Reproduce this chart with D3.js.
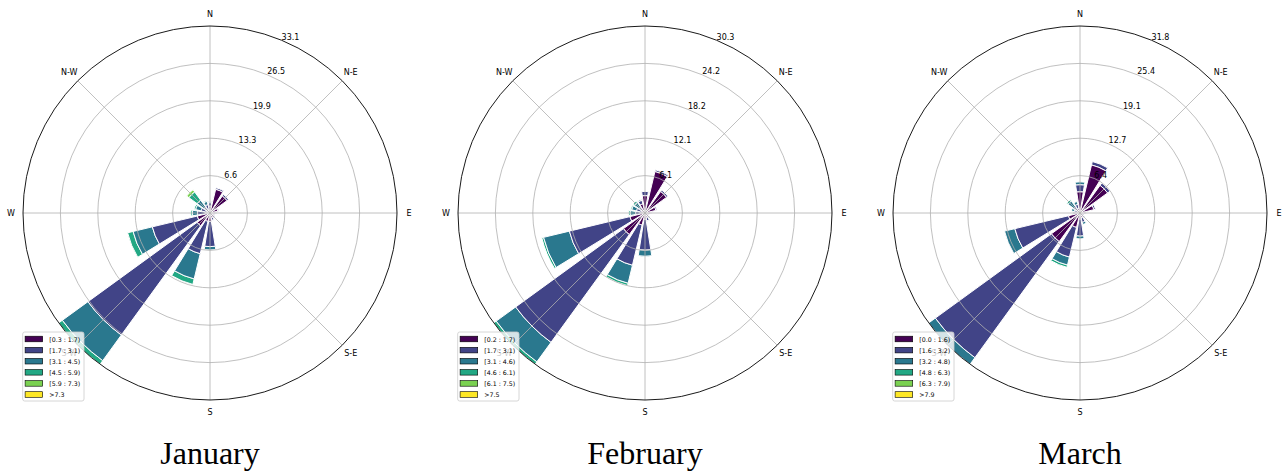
<!DOCTYPE html>
<html>
<head>
<meta charset="utf-8">
<script src="https://cdn.jsdelivr.net/npm/d3@7"></script>
<style>
  body { margin: 0; background: #fff; }
  svg { display: block; }
</style>
</head>
<body>
<svg id="chart" width="1287" height="474"></svg>
<script>
// Sixteen compass sectors, clockwise from north
const directions = ["N", "NNE", "NE", "ENE", "E", "ESE", "SE", "SSE",
                    "S", "SSW", "SW", "WSW", "W", "WNW", "NW", "NNW"];
const compassLabels = ["N", "N-E", "E", "S-E", "S", "S-W", "W", "N-W"];
const months = ["January", "February", "March"];

// Wind-speed bins shown in each legend
const janBins = ["[0.3 : 1.7)", "[1.7 : 3.1)", "[3.1 : 4.5)", "[4.5 : 5.9)", "[5.9 : 7.3)", ">7.3"];
const febBins = ["[0.2 : 1.7)", "[1.7 : 3.1)", "[3.1 : 4.6)", "[4.6 : 6.1)", "[6.1 : 7.5)", ">7.5"];
const marBins = ["[0.0 : 1.6)", "[1.6 : 3.2)", "[3.2 : 4.8)", "[4.8 : 6.3)", "[6.3 : 7.9)", ">7.9"];

// Frequency (%) per bin (rows) and direction (columns)
const janFreq = [
  [1.2, 4.3, 3.7, 1.4, 0.9, 0.7, 0.8, 0.9, 1.5, 1.5, 2.8, 2.3, 0.7, 0.6, 0.5, 0.7],
  [0.6, 0.3, 0.35, 0.2, 0.2, 0.2, 0.3, 0.4, 4.45, 5.9, 23.9, 8.2, 1.5, 1.0, 0.8, 0.8],
  [0.2, 0, 0, 0, 0, 0, 0, 0.1, 0.6, 4.6, 5.6, 3.5, 0.9, 1.0, 1.5, 0.6],
  [0, 0, 0, 0, 0, 0, 0, 0, 0, 1.0, 0.8, 1.0, 0.3, 0.3, 1.8, 0.2],
  [0, 0, 0, 0, 0, 0, 0, 0, 0, 0, 0, 0, 0, 0, 0.5, 0],
  [0, 0, 0, 0, 0, 0, 0, 0, 0, 0, 0, 0, 0, 0, 0, 0]
];
const febFreq = [
  [2.8, 6.9, 4.3, 1.8, 0.9, 0.6, 0.5, 0.7, 1.0, 2.0, 4.3, 2.5, 0.6, 0.6, 0.5, 1.5],
  [0.7, 0.3, 0.3, 0.2, 0.1, 0.1, 0.3, 0.6, 5.0, 6.7, 21.6, 10.1, 0.9, 0.8, 0.7, 0.6],
  [0, 0, 0, 0, 0, 0, 0.2, 0.1, 1.0, 3.0, 3.9, 4.3, 0.9, 0.8, 0.9, 0.2],
  [0, 0, 0, 0, 0, 0, 0, 0, 0, 0.4, 0.5, 0.3, 0.3, 0.2, 0.3, 0],
  [0, 0, 0, 0, 0, 0, 0, 0, 0, 0, 0, 0, 0, 0, 0, 0],
  [0, 0, 0, 0, 0, 0, 0, 0, 0, 0, 0, 0, 0, 0, 0, 0]
];
const marFreq = [
  [3.6, 8.4, 5.8, 2.4, 0.9, 0.5, 0.6, 0.8, 1.0, 2.5, 6.0, 2.0, 0.5, 0.4, 0.5, 0.8],
  [1.2, 0.6, 0.5, 0.3, 0.2, 0.2, 0.3, 0.8, 2.9, 5.2, 24.4, 9.4, 0.5, 0.6, 0.8, 0.7],
  [0.5, 0, 0, 0, 0, 0, 0.1, 0.4, 0.5, 1.4, 1.4, 1.8, 0.2, 0.5, 1.2, 0.5],
  [0, 0, 0, 0, 0, 0, 0, 0, 0, 0.4, 0, 0, 0, 0, 0.3, 0],
  [0, 0, 0, 0, 0, 0, 0, 0, 0, 0, 0, 0, 0, 0, 0, 0],
  [0, 0, 0, 0, 0, 0, 0, 0, 0, 0, 0, 0, 0, 0, 0, 0]
];

// Radial tick labels (five evenly spaced rings up to the longest bar)
const janTicks = ["6.6", "13.3", "19.9", "26.5", "33.1"];
const febTicks = ["6.1", "12.1", "18.2", "24.2", "30.3"];
const marTicks = ["6.4", "12.7", "19.1", "25.4", "31.8"];

const panels = [
  { title: months[0], freq: janFreq, bins: janBins, ticks: janTicks, cx: 210 },
  { title: months[1], freq: febFreq, bins: febBins, ticks: febTicks, cx: 645 },
  { title: months[2], freq: marFreq, bins: marBins, ticks: marTicks, cx: 1080 }
];

const binColors = d3.quantize(d3.interpolateViridis, 6);
const CY = 213, R = 187;
const sector = 2 * Math.PI / directions.length;
const opening = sector * 0.8;
const rad = d3.scaleLinear().range([0, R]);
const svg = d3.select("#chart");
const FONT = "'DejaVu Sans', sans-serif";

function drawRose(p) {
  const g = svg.append("g").attr("transform", `translate(${p.cx},${CY})`);
  const nb = p.freq.length;
  const totals = directions.map((_, j) => d3.sum(p.freq, row => row[j]));
  const rmax = d3.max(totals);
  const r = rad.copy().domain([0, rmax]);

  // stacked segments per direction; inner bins drawn last
  const segs = [];
  directions.forEach((d, j) => {
    let base = 0;
    for (let i = 0; i < nb; i++) {
      const v = p.freq[i][j];
      if (v > 0) segs.push({ i, j, r0: base, r1: base + v });
      base += v;
    }
  });
  segs.sort((a, b) => b.i - a.i);
  const arc = d3.arc();
  g.append("g").selectAll("path").data(segs).join("path")
    .attr("d", s => arc({
      innerRadius: r(s.r0), outerRadius: r(s.r1),
      startAngle: s.j * sector - opening / 2, endAngle: s.j * sector + opening / 2
    }))
    .attr("fill", s => binColors[s.i])
    .attr("stroke", "#fff").attr("stroke-width", 1).attr("stroke-linejoin", "miter");

  // grid
  const grid = g.append("g").attr("fill", "none").attr("stroke", "#b0b0b0").attr("stroke-width", 0.8);
  const ringVals = p.ticks.map((_, k) => rmax * (k + 1) / p.ticks.length);
  grid.selectAll("circle").data(ringVals.slice(0, -1)).join("circle").attr("r", v => r(v));
  grid.selectAll("line").data(d3.range(8)).join("line")
    .attr("x1", 0).attr("y1", 0)
    .attr("x2", k => R * Math.sin(k * Math.PI / 4))
    .attr("y2", k => -R * Math.cos(k * Math.PI / 4));
  g.append("circle").attr("r", R).attr("fill", "none").attr("stroke", "#000").attr("stroke-width", 0.9);

  // radial tick labels along 22.5°
  const a = Math.PI / 8;
  g.append("g").selectAll("text").data(ringVals).join("text")
    .attr("x", v => r(v) * Math.sin(a))
    .attr("y", v => -r(v) * Math.cos(a) - 0.5)
    .attr("font-family", FONT).attr("font-size", 8).attr("fill", "#000")
    .text((v, k) => p.ticks[k]);

  // compass labels
  g.append("g").selectAll("text").data(compassLabels).join("text")
    .attr("x", (d, k) => 199 * Math.sin(k * Math.PI / 4))
    .attr("y", (d, k) => -199 * Math.cos(k * Math.PI / 4))
    .attr("text-anchor", "middle").attr("dominant-baseline", "central")
    .attr("font-family", FONT).attr("font-size", 8).attr("fill", "#000")
    .text(d => d);

  // legend
  const lg = g.append("g").attr("transform", `translate(${-187.3},${332 - CY})`);
  lg.append("rect").attr("width", 61.3).attr("height", 69).attr("rx", 2)
    .attr("fill", "#fff").attr("fill-opacity", 0.8)
    .attr("stroke", "#cccccc").attr("stroke-width", 0.8);
  const rows = lg.selectAll("g.row").data(p.bins).join("g")
    .attr("transform", (d, i) => `translate(0,${7 + i * 11.1})`);
  rows.append("rect").attr("x", 2.4).attr("y", -2.8).attr("width", 17.6).attr("height", 5.6)
    .attr("fill", (d, i) => binColors[i]).attr("stroke", "#000").attr("stroke-width", 0.6);
  rows.append("text").attr("x", 26.5).attr("y", 0)
    .attr("dominant-baseline", "central")
    .attr("font-family", FONT).attr("font-size", 6.3).attr("fill", "#000")
    .text(d => d);

  // month title
  svg.append("text").attr("x", p.cx).attr("y", 464)
    .attr("text-anchor", "middle")
    .attr("font-family", "'Liberation Serif', serif").attr("font-size", 32)
    .text(p.title);
}

panels.forEach(drawRose);
</script>
</body>
</html>
